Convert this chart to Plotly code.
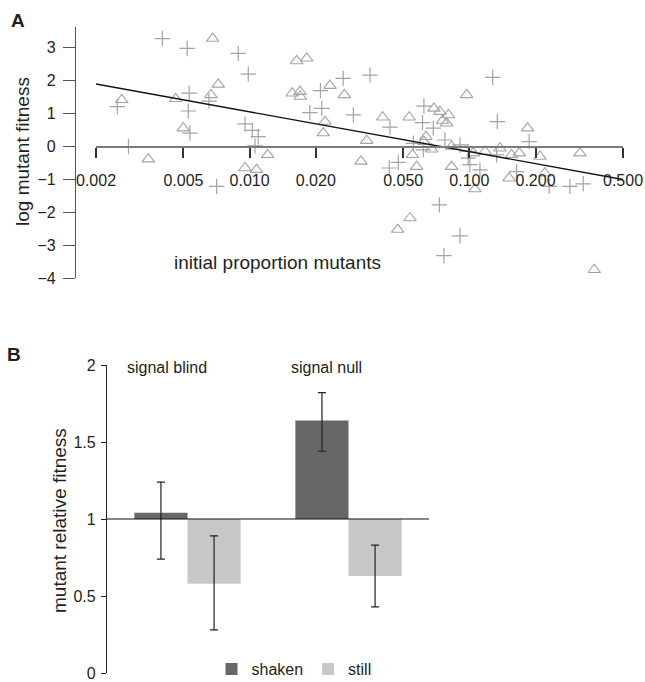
import math
import plotly.graph_objects as go

# ---------------- Panel A data ----------------
plus_x = [0.00250, 0.00281, 0.00401, 0.00520, 0.00531, 0.00526, 0.00535, 0.00653, 0.00708,
          0.00888, 0.00986, 0.00953, 0.01028, 0.01094, 0.01058, 0.0188, 0.0210, 0.0213,
          0.02666, 0.02965, 0.0353, 0.0435, 0.0432, 0.0475, 0.0556, 0.0612, 0.0617, 0.0621,
          0.0685, 0.0774, 0.0906, 0.0730, 0.0906, 0.0766, 0.0988, 0.0988, 0.1006, 0.1117,
          0.1277, 0.1340, 0.1331, 0.1641, 0.1871, 0.2308, 0.2867, 0.3296]
plus_y = [1.21, 0.00, 3.28, 2.98, 1.62, 1.08, 0.41, 1.38, -1.21,
          2.83, 2.20, 0.69, 0.49, 0.30, 0.02, 1.03, 1.70, 1.16,
          2.07, 0.96, 2.17, 0.59, -0.65, -0.48, 0.10, 0.73, -0.10, 1.23,
          0.56, 0.20, 0.05, -1.77, -2.71, -3.31, -0.15, -0.35, -0.55, -0.71,
          2.10, 0.76, -0.25, -0.76, 0.15, -1.21, -1.21, -1.13]

tri_x = [0.00262, 0.00346, 0.00461, 0.00499, 0.00667, 0.00679, 0.00720, 0.00953, 0.01076,
         0.01208, 0.01563, 0.01637, 0.01695, 0.01700, 0.01819, 0.02163, 0.02204, 0.02321,
         0.02698, 0.0321, 0.0341, 0.0403, 0.0472, 0.0532, 0.0537, 0.0551, 0.0575, 0.0621,
         0.0634, 0.0673, 0.0690, 0.0735, 0.0755, 0.0788, 0.0802, 0.0830, 0.0830, 0.0972,
         0.1042, 0.1060, 0.1178, 0.1377, 0.1517, 0.1556, 0.1687, 0.1841, 0.2094, 0.2207,
         0.3185, 0.3698]
tri_y = [1.42, -0.38, 1.45, 0.56, 1.57, 3.28, 1.89, -0.65, -0.70,
         -0.25, 1.62, 2.60, 1.67, 1.52, 2.68, 0.41, 0.76, 1.85,
         1.57, -0.45, 0.18, 0.89, -2.52, 0.89, -2.17, -0.25, -0.61, 0.15,
         0.30, -0.08, 1.16, 1.06, 0.79, 0.71, 0.96, 0.00, -0.61, 1.57,
         -0.20, -1.29, -0.15, -0.05, -0.96, -0.25, -0.20, 0.56, -0.30, -0.81,
         -0.20, -3.74]

fit_x = [0.002, 0.5]
fit_y = [1.90, -1.00]

a_xticks = [0.002, 0.005, 0.010, 0.020, 0.050, 0.100, 0.200, 0.500]
a_xticktext = ["0.002", "0.005", "0.010", "0.020", "0.050", "0.100", "0.200", "0.500"]
a_yticks = [-4, -3, -2, -1, 0, 1, 2, 3]

# ---------------- Panel B data ----------------
groups = ["signal blind", "signal null"]
shaken = [1.04, 1.64]
shaken_hi = [1.24, 1.82]
shaken_lo = [0.74, 1.44]
still = [0.58, 0.63]
still_hi = [0.89, 0.83]
still_lo = [0.28, 0.43]
b_yticks = [0, 0.5, 1, 1.5, 2]
b_yticktext = ["0", "0.5", "1", "1.5", "2"]
baseline = 1.0

# ---------------- geometry helpers ----------------
W, H = 645, 682
def px(x):
    return x / W
def py(y):
    return 1 - y / H

FONT = "Liberation Sans, Arial, Helvetica, sans-serif"
TXT = "#231f20"
GRAY = "#a3a3a3"
SHAKEN_C = "#676767"
STILL_C = "#c6c7c9"

a_yrange = [-4, 3.64]
a_ydom = [py(278.3), py(26.7)]
zero_pos = a_ydom[0] + (0 - a_yrange[0]) / (a_yrange[1] - a_yrange[0]) * (a_ydom[1] - a_ydom[0])

fig = go.Figure()

fig.add_trace(go.Scatter(
    x=plus_x, y=plus_y, mode="markers", xaxis="x", yaxis="y", showlegend=False,
    marker=dict(symbol="cross-thin", size=11, color=GRAY, line=dict(width=1.2, color=GRAY)),
    cliponaxis=False))
fig.add_trace(go.Scatter(
    x=tri_x, y=tri_y, mode="markers", xaxis="x", yaxis="y", showlegend=False,
    marker=dict(symbol="triangle-up-open", size=11, color=GRAY, line=dict(width=1.1, color=GRAY)),
    cliponaxis=False))
fig.add_trace(go.Scatter(
    x=fit_x, y=fit_y, mode="lines", xaxis="x", yaxis="y", showlegend=False,
    line=dict(color="#111111", width=1.3), cliponaxis=False))

# Panel B bars (drawn from the baseline of 1)
fig.add_trace(go.Bar(
    x=groups, y=[v - baseline for v in shaken], base=baseline, name="shaken",
    marker=dict(color=SHAKEN_C, line=dict(width=0)), xaxis="x2", yaxis="y2",
    error_y=dict(type="data", symmetric=False,
                 array=[h - v for h, v in zip(shaken_hi, shaken)],
                 arrayminus=[v - l for v, l in zip(shaken, shaken_lo)],
                 color="#222222", thickness=1.2, width=4)))
fig.add_trace(go.Bar(
    x=groups, y=[v - baseline for v in still], base=baseline, name="still",
    marker=dict(color=STILL_C, line=dict(width=0)), xaxis="x2", yaxis="y2",
    error_y=dict(type="data", symmetric=False,
                 array=[h - v for h, v in zip(still_hi, still)],
                 arrayminus=[v - l for v, l in zip(still, still_lo)],
                 color="#222222", thickness=1.2, width=4)))

fig.update_layout(
    width=W, height=H, margin=dict(l=0, r=0, t=0, b=0, pad=0, autoexpand=False),
    paper_bgcolor="white", plot_bgcolor="rgba(0,0,0,0)",
    font=dict(family=FONT, size=16, color=TXT),
    barmode="group", bargap=0.34, bargroupgap=0,
    xaxis=dict(
        type="log", domain=[px(96), px(623)],
        range=[math.log10(0.002), math.log10(0.5)],
        anchor="free", position=zero_pos, automargin=False,
        showline=True, linecolor="#7a7a7a", linewidth=2,
        ticks="outside", ticklen=10, tickwidth=1.5, tickcolor="#333333",
        tickvals=a_xticks, ticktext=a_xticktext, ticklabelstandoff=9,
        tickfont=dict(size=16, color=TXT),
        showgrid=False, zeroline=False),
    yaxis=dict(
        domain=a_ydom, range=a_yrange, anchor="free", position=px(75), automargin=False,
        showline=True, linecolor="#555555", linewidth=1.3,
        ticks="outside", ticklen=12, tickwidth=1.3, tickcolor="#555555",
        tickvals=a_yticks, tickfont=dict(size=16, color=TXT), ticklabelstandoff=4,
        showgrid=False, zeroline=False),
    xaxis2=dict(
        type="category", domain=[px(107), px(429)], range=[-0.5, 1.5],
        anchor="y2", visible=False, automargin=False),
    yaxis2=dict(
        domain=[py(673), py(365)], range=[0, 2], anchor="x2", automargin=False,
        showline=True, linecolor="#222222", linewidth=1.2,
        ticks="outside", ticklen=5, tickwidth=1.2, tickcolor="#222222",
        tickvals=b_yticks, ticktext=b_yticktext, tickfont=dict(size=16, color=TXT),
        ticklabelstandoff=2, showgrid=False, zeroline=False),
    legend=dict(orientation="h", x=px(294), y=py(652), xanchor="center", yanchor="top",
                font=dict(size=16, color=TXT), itemwidth=30, bgcolor="rgba(0,0,0,0)",
                tracegroupgap=0),
    shapes=[dict(type="line", xref="x2 domain", x0=0, x1=1, yref="y2", y0=baseline, y1=baseline,
                 line=dict(color="#111111", width=1.2), layer="above")],
)

ann = [
    dict(text="<b>A</b>", x=px(18), y=py(21), font=dict(size=19, color=TXT)),
    dict(text="log mutant fitness", x=px(22), y=py(152), textangle=-90, font=dict(size=19, color=TXT)),
    dict(text="initial proportion mutants", x=px(277), y=py(262), font=dict(size=19, color=TXT)),
    dict(text="<b>B</b>", x=px(14), y=py(354), font=dict(size=19, color=TXT)),
    dict(text="mutant relative fitness", x=px(59), y=py(521), textangle=-90, font=dict(size=19, color=TXT)),
    dict(text="signal blind", x=px(167), y=py(367), font=dict(size=16, color=TXT)),
    dict(text="signal null", x=px(326), y=py(367), font=dict(size=16, color=TXT)),
]
for a in ann:
    a.update(xref="paper", yref="paper", showarrow=False, xanchor="center", yanchor="middle")
fig.update_layout(annotations=ann)

fig.write_html("out.html")
